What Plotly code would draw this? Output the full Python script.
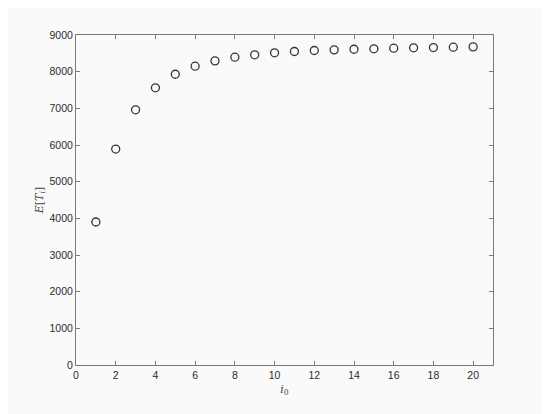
import plotly.graph_objects as go

# datos
i0 = list(range(1, 21))
esperanza_T = [3900, 5890, 6960, 7560, 7930, 8150, 8295, 8395, 8460, 8515,
               8550, 8577, 8595, 8612, 8623, 8640, 8650, 8658, 8667, 8677]
x_ticks = [0, 2, 4, 6, 8, 10, 12, 14, 16, 18, 20]
y_ticks = [0, 1000, 2000, 3000, 4000, 5000, 6000, 7000, 8000, 9000]

fondo = '#fafafa'
eje = '#7a7a7a'

fig = go.Figure()
fig.add_trace(go.Scatter(
    x=i0,
    y=esperanza_T,
    mode='markers',
    marker=dict(symbol='circle-open', size=8, color='#333333',
                line=dict(width=1.3, color='#333333')),
    showlegend=False
))

ejes = dict(
    showline=True, linecolor=eje, linewidth=1, mirror='ticks',
    ticks='inside', ticklen=4, tickcolor=eje,
    showgrid=False, zeroline=False,
    tickfont=dict(family='Liberation Sans', size=10.5, color='#2a2a2a'),
)

fig.update_layout(
    width=550, height=414,
    paper_bgcolor=fondo, plot_bgcolor=fondo,
    margin=dict(l=68, r=65, t=27, b=57),
    xaxis=dict(range=[0, 21], tickvals=x_ticks,
               title=dict(text='<i>i</i><sub>0</sub>', standoff=5,
                          font=dict(family='DejaVu Serif', size=11, color='#444444')),
               **ejes),
    yaxis=dict(range=[0, 9000], tickvals=y_ticks,
               title=dict(text='<i>E</i>[<i>T<sub>i</sub></i>]', standoff=3,
                          font=dict(family='DejaVu Serif', size=11, color='#444444')),
               **ejes),
)

fig.write_html("out.html")
